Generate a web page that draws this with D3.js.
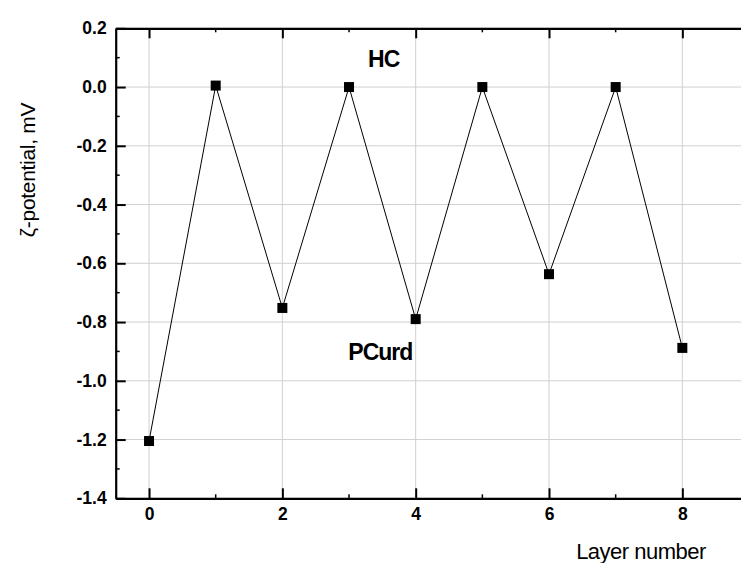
<!DOCTYPE html>
<html><head><meta charset="utf-8">
<script src="https://cdn.jsdelivr.net/npm/d3@7"></script>
<style>body{margin:0;background:#fff}svg{display:block}</style>
</head><body>
<svg id="c" width="741" height="563"></svg>
<script>
const layers = [0,1,2,3,4,5,6,7,8];
const zeta = [-1.205,0.005,-0.752,0.0,-0.79,0.0,-0.637,0.0,-0.888];
const xTicks = [0,2,4,6,8];
const yTicks = [0.2,0.0,-0.2,-0.4,-0.6,-0.8,-1.0,-1.2,-1.4];
const annotations = [{text:"HC", x:3.52, y:0.068},{text:"PCurd", x:3.47, y:-0.929}];

(function(){
const svg = d3.select("#c");
const L=115.7, T=28.3, B=498.3, R=749;
const x = d3.scaleLinear().domain([-0.5,9]).range([L,R]);
const y = d3.scaleLinear().domain([-1.4,0.2]).range([B,T]);
const font = "Arial, 'Liberation Sans', sans-serif";
const fmtY = d => d3.format(".1f")(d).replace("\u2212","-");

// grid
svg.append("g").selectAll("line").data(xTicks).join("line")
  .attr("x1",d=>x(d)).attr("x2",d=>x(d)).attr("y1",T).attr("y2",B)
  .attr("stroke","#d0d0d0").attr("stroke-width",1);
svg.append("g").selectAll("line").data(yTicks).join("line")
  .attr("x1",L).attr("x2",R).attr("y1",d=>y(d)).attr("y2",d=>y(d))
  .attr("stroke","#d0d0d0").attr("stroke-width",1);

// axes
const xMinor = [1,3,5,7];
const yMinor = d3.range(-13,2,2).map(v=>v/10);
const bottomAx = d3.axisBottom(x).tickValues(xTicks).tickFormat(d3.format("d")).tickSizeInner(-10).tickSizeOuter(0).tickPadding(9);
const gb = svg.append("g").attr("transform",`translate(0,${B})`).call(bottomAx);
const leftAx = d3.axisLeft(y).tickValues(yTicks).tickFormat(fmtY).tickSizeInner(-10).tickSizeOuter(0).tickPadding(9);
const gl = svg.append("g").attr("transform",`translate(${L},0)`).call(leftAx);
const topAx = d3.axisTop(x).tickValues(xTicks).tickFormat("").tickSizeInner(-10).tickSizeOuter(0);
const gt = svg.append("g").attr("transform",`translate(0,${T})`).call(topAx);
[gb,gl,gt].forEach(g=>{
  g.select(".domain").attr("stroke","#000").attr("stroke-width",2.2);
  g.selectAll(".tick line").attr("stroke","#000").attr("stroke-width",2);
  g.selectAll("text").attr("font-family",font).attr("font-weight","bold").attr("font-size",17.5).attr("fill","#000");
});
// minor ticks
svg.append("g").selectAll("line").data(xMinor).join("line")
  .attr("x1",d=>x(d)).attr("x2",d=>x(d)).attr("y1",B).attr("y2",B-4).attr("stroke","#000").attr("stroke-width",1.5);
svg.append("g").selectAll("line").data(xMinor).join("line")
  .attr("x1",d=>x(d)).attr("x2",d=>x(d)).attr("y1",T).attr("y2",T+4).attr("stroke","#000").attr("stroke-width",1.5);
svg.append("g").selectAll("line").data(yMinor).join("line")
  .attr("x1",L).attr("x2",L+4).attr("y1",d=>y(d)).attr("y2",d=>y(d)).attr("stroke","#000").attr("stroke-width",1.5);

// line
const pts = layers.map((l,i)=>[l,zeta[i]]);
svg.append("path").datum(pts)
  .attr("d",d3.line().x(d=>x(d[0])).y(d=>y(d[1])))
  .attr("fill","none").attr("stroke","#000").attr("stroke-width",1);
svg.append("g").selectAll("rect").data(pts).join("rect")
  .attr("x",d=>x(d[0])-5).attr("y",d=>y(d[1])-5).attr("width",10).attr("height",10).attr("fill","#000");

// annotations
svg.append("g").selectAll("text").data(annotations).join("text")
  .attr("x",d=>x(d.x)).attr("y",d=>y(d.y)).attr("text-anchor","middle")
  .attr("font-family",font).attr("font-weight","bold").attr("font-size",23).attr("letter-spacing","-1")
  .text(d=>d.text);

// axis titles
svg.append("text").attr("x",641).attr("y",559).attr("text-anchor","middle")
  .attr("font-family",font).attr("font-size",22).attr("letter-spacing","-0.5").text("Layer number");
svg.append("text").attr("transform","translate(35,170) rotate(-90)").attr("text-anchor","middle")
  .attr("font-family",font).attr("font-size",21).attr("letter-spacing","-0.3").text("ζ-potential, mV");
})();
</script>
</body></html>
